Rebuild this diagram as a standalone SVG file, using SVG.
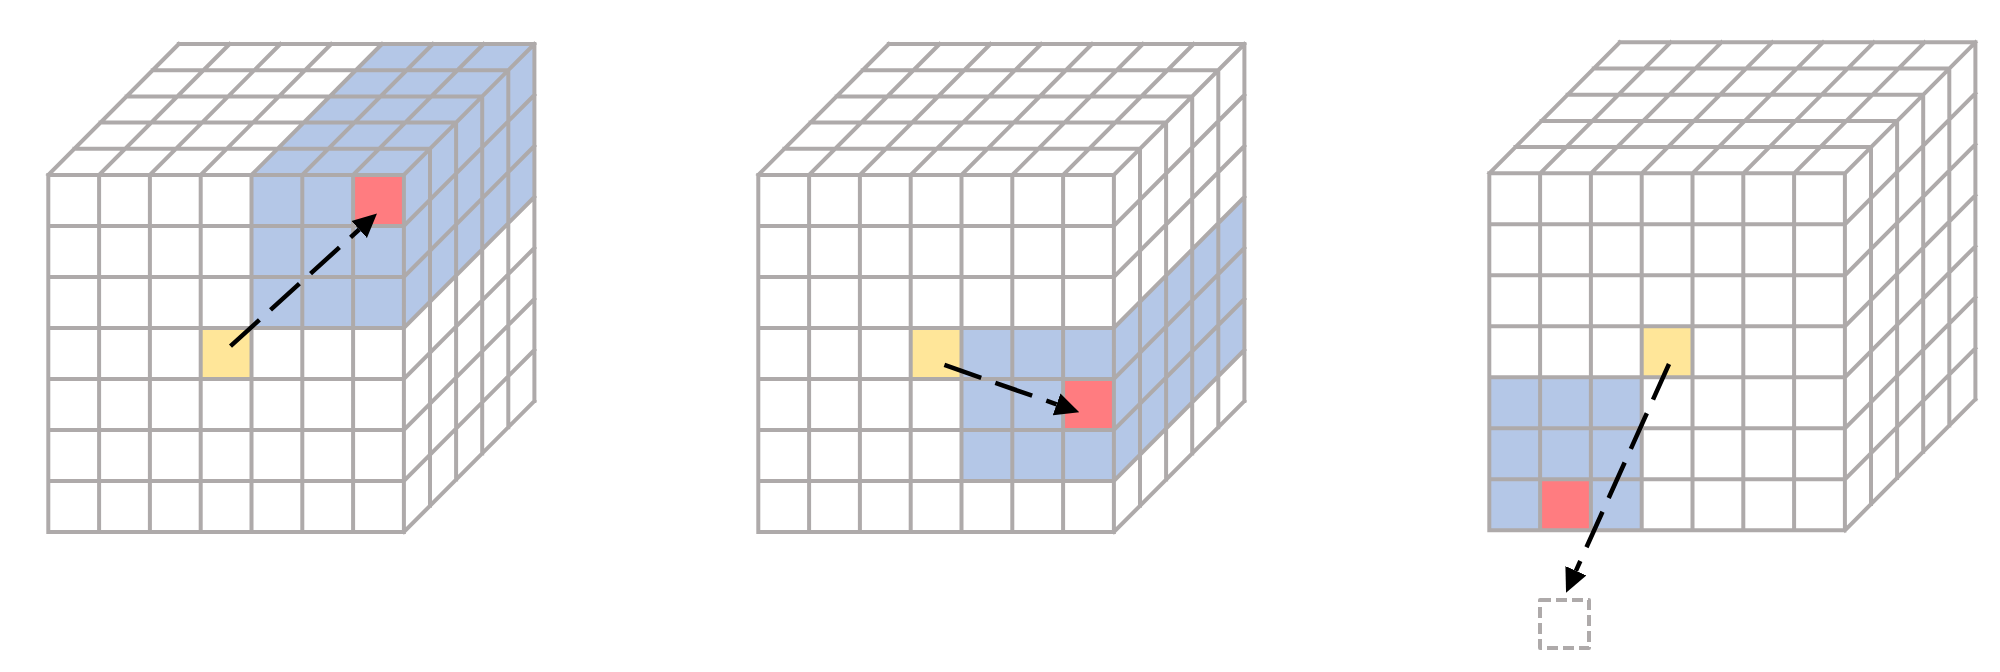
<svg xmlns="http://www.w3.org/2000/svg" width="2000" height="672" viewBox="0 0 2000 672">
  <style>
    .grid { fill: none; stroke: #AEAAAA; stroke-width: 4; stroke-linecap: square; stroke-linejoin: miter; }
    .blue { fill: #B4C7E7; }
    .pink { fill: #FF7C80; }
    .yellow { fill: #FFE699; }
    .arrow { fill: none; stroke: #000000; stroke-width: 4.5; stroke-dasharray: 39 15; marker-end: url(#head); }
    .ghost { fill: none; stroke: #AEAAAA; stroke-width: 4; stroke-dasharray: 11 5; stroke-linejoin: round; }
  </style>
  <defs>
    <marker id="head" markerUnits="userSpaceOnUse" markerWidth="24" markerHeight="24" viewBox="0 -12 24 24" refX="0" refY="0" orient="auto">
      <path d="M0 -11.5 L24 0 L0 11.5 Z" fill="#000000"/>
    </marker>
    <path id="grid" class="grid" d="
      M0 0V357 M50.8 0V357 M101.6 0V357 M152.4 0V357 M203.2 0V357 M254 0V357 M304.8 0V357 M355.6 0V357
      M0 0H355.6 M0 51H355.6 M0 102H355.6 M0 153H355.6 M0 204H355.6 M0 255H355.6 M0 306H355.6 M0 357H355.6
      M26.1 -26.2H381.7 M52.2 -52.4H407.8 M78.3 -78.6H433.9 M104.4 -104.8H460 M130.5 -131H486.1
      M381.7 -26.2V330.8 M407.8 -52.4V304.6 M433.9 -78.6V278.4 M460 -104.8V252.2 M486.1 -131V226
      M0 0l130.5 -131 M50.8 0l130.5 -131 M101.6 0l130.5 -131 M152.4 0l130.5 -131 M203.2 0l130.5 -131 M254 0l130.5 -131 M304.8 0l130.5 -131 M355.6 0l130.5 -131
      M355.6 51l130.5 -131 M355.6 102l130.5 -131 M355.6 153l130.5 -131 M355.6 204l130.5 -131 M355.6 255l130.5 -131 M355.6 306l130.5 -131 M355.6 357l130.5 -131"/>
  </defs>

  <g id="cube-1" transform="translate(48.3 175)">
    <rect class="blue" x="203.2" y="0" width="152.4" height="153"/>
    <polygon class="blue" points="203.2,0 355.6,0 486.1,-131 333.7,-131"/>
    <polygon class="blue" points="355.6,0 486.1,-131 486.1,22 355.6,153"/>
    <rect class="pink" x="304.8" y="0" width="50.8" height="51"/>
    <rect class="yellow" x="152.4" y="153" width="50.8" height="51"/>
    <use href="#grid"/>
  </g>

  <g id="cube-2" transform="translate(758.3 175)">
    <rect class="blue" x="203.2" y="153" width="152.4" height="153"/>
    <polygon class="blue" points="355.6,153 486.1,22 486.1,175 355.6,306"/>
    <rect class="pink" x="304.8" y="204" width="50.8" height="51"/>
    <rect class="yellow" x="152.4" y="153" width="50.8" height="51"/>
    <use href="#grid"/>
  </g>

  <g id="cube-3" transform="translate(1489.3 173.3)">
    <rect class="blue" x="0" y="204" width="152.4" height="153"/>
    <rect class="pink" x="50.8" y="306" width="50.8" height="51"/>
    <rect class="yellow" x="152.4" y="153" width="50.8" height="51"/>
    <use href="#grid"/>
  </g>

  <g id="target">
    <rect class="ghost" x="1540" y="600" width="49" height="48"/>
  </g>

  <g id="connectors">
    <path class="arrow" d="M230.5 346.1 L359.2 229.5"/>
    <path class="arrow" d="M944.4 364.9 L1056.6 404.3"/>
    <path class="arrow" d="M1669 364 L1575.9 570.8"/>
  </g>
</svg>
